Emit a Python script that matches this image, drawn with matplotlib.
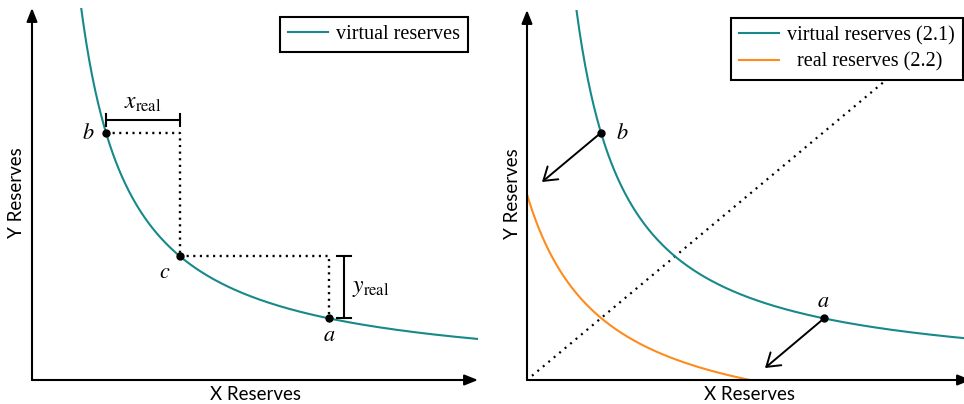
import numpy as np
import matplotlib
matplotlib.use("Agg")
import matplotlib.pyplot as plt

plt.rcParams['mathtext.fontset'] = 'stix'

# ---- data (abstract reserve units) ----
k = 1.83                      # constant product of virtual reserves
point_names = ["b", "c", "a"]
point_x = [0.74, 1.48, 2.97]  # x reserves of points b, c, a
point_y = [k / x for x in point_x]
right_arrow_from = [(0.74, 1.83 / 0.74), (2.97, 1.83 / 2.97)]
right_arrow_to = [(0.15, 1.98), (2.38, 0.12)]
left_legend = ["virtual reserves"]
right_legend = ["virtual reserves (2.1)", "  real reserves (2.2)"]
axis_labels = ("X Reserves", "Y Reserves")

TEAL = "#17898a"
ORANGE = "#ff8b1c"
SERIF = "Liberation Serif"
SANS = "Lato"

W, H = 964, 404
fig = plt.figure(figsize=(W / 100, H / 100), dpi=100)

def make_ax(x0, y0, xlim, ylim):
    w = xlim * 100
    h = ylim * 100
    ax = fig.add_axes([x0 / W, (H - y0) / H, w / W, h / H])
    ax.set_xlim(0, xlim)
    ax.set_ylim(0, ylim)
    ax.axis("off")
    return ax

axL = make_ax(32, 380, 4.46, 3.72)
axR = make_ax(527, 380, 4.37, 3.70)

def axes_arrows(ax, xend, yend):
    kw = dict(arrowstyle="-|>,head_length=0.5,head_width=0.2", mutation_scale=16,
              lw=1.5, color="black", shrinkA=0, shrinkB=0)
    ax.annotate("", xy=(xend, 0), xytext=(0, 0), arrowprops=kw, annotation_clip=False)
    ax.annotate("", xy=(0, yend), xytext=(0, 0), arrowprops=kw, annotation_clip=False)

axes_arrows(axL, 4.46, 3.72)
axes_arrows(axR, 4.44, 3.70)

# ---------------- left panel ----------------
xs = np.linspace(k / 3.72, 4.46, 400)
axL.plot(xs, k / xs, color=TEAL, lw=1.5, label=left_legend[0])

xb, xc, xa = point_x
yb, yc, ya = point_y
dot = dict(color="black", lw=1.7, linestyle=(0, (0.9, 1.9)))
axL.plot([xb, xc, xc], [yb, yb, yc], **dot)
axL.plot([xc, xa, xa], [yc, yc, ya], **dot)
axL.plot(point_x, point_y, "o", color="black", ms=5, zorder=5)

lab = dict(fontsize=16, color="black")
axL.text(0.56, yb, "$b$", ha="center", va="center", **lab)
axL.text(1.33, 1.08, "$c$", ha="center", va="center", **lab)
axL.text(xa, 0.45, "$a$", ha="center", va="center", **lab)

# x_real bracket
by = 2.60
axL.plot([xb, xc], [by, by], color="black", lw=1.5)
axL.plot([xb, xb], [by - 0.06, by + 0.06], color="black", lw=1.5)
axL.plot([xc, xc], [by - 0.06, by + 0.06], color="black", lw=1.5)
axL.text((xb + xc) / 2, by + 0.06, r"$x_{\mathrm{real}}$", ha="center", va="bottom", fontsize=17)

# y_real bracket
bx = 3.12
axL.plot([bx, bx], [ya, yc], color="black", lw=1.5)
axL.plot([bx - 0.07, bx + 0.07], [ya, ya], color="black", lw=1.5)
axL.plot([bx - 0.07, bx + 0.07], [yc, yc], color="black", lw=1.5)
axL.text(bx + 0.08, (ya + yc) / 2, r"$y_{\mathrm{real}}$", ha="left", va="center", fontsize=17)

legL = axL.legend(loc="upper right", bbox_to_anchor=(468 / W, 1 - 17 / H),
                  bbox_transform=fig.transFigure, borderaxespad=0,
                  fancybox=False, edgecolor="black", framealpha=1,
                  prop={"family": SERIF, "size": 14.5}, handlelength=2.0,
                  handletextpad=0.4, borderpad=0.4)
legL.get_frame().set_linewidth(1.5)

# ---------------- right panel ----------------
xs2 = np.linspace(k / 3.70, 4.37, 400)
axR.plot(xs2, k / xs2, color=TEAL, lw=1.5, label=right_legend[0])
xr = np.linspace(0, k / ya - xb, 400)
axR.plot(xr, k / (xr + xb) - ya, color=ORANGE, lw=1.5, label=right_legend[1])

slope = yc / xc
xd = np.array([0.05, 4.1])
axR.plot(xd, slope * xd, color="black", lw=1.6, linestyle=(0, (0.9, 2.3)), zorder=1)

for (x0, y0), (x1, y1) in zip(right_arrow_from, right_arrow_to):
    axR.annotate("", xy=(x1, y1), xytext=(x0, y0),
                 arrowprops=dict(arrowstyle="->,head_length=0.45,head_width=0.3",
                                 mutation_scale=20, lw=1.4, color="black",
                                 shrinkA=0, shrinkB=0))
axR.plot([xb, xa], [yb, ya], "o", color="black", ms=5, zorder=5)
axR.text(0.95, yb, "$b$", ha="center", va="center", **lab)
axR.text(xa - 0.01, 0.79, "$a$", ha="center", va="center", **lab)

legR = axR.legend(loc="upper right", bbox_to_anchor=(963 / W, 1 - 18 / H),
                  bbox_transform=fig.transFigure, borderaxespad=0,
                  fancybox=False, edgecolor="black", framealpha=1,
                  prop={"family": SERIF, "size": 14.5}, handlelength=2.0,
                  handletextpad=0.4, borderpad=0.4, labelspacing=0.35)
legR.get_frame().set_linewidth(1.5)
legR.set_zorder(10)

# axis labels
albl = dict(fontsize=13.5, family=SANS, color="black", ha="center", va="center")
fig.text(255 / W, 1 - 395 / H, axis_labels[0], **albl)
fig.text(17 / W, 1 - 193 / H, axis_labels[1], rotation=90, **albl)
fig.text(749 / W, 1 - 395 / H, axis_labels[0], **albl)
fig.text(513 / W, 1 - 194 / H, axis_labels[1], rotation=90, **albl)

fig.savefig("out.png", dpi=100)
